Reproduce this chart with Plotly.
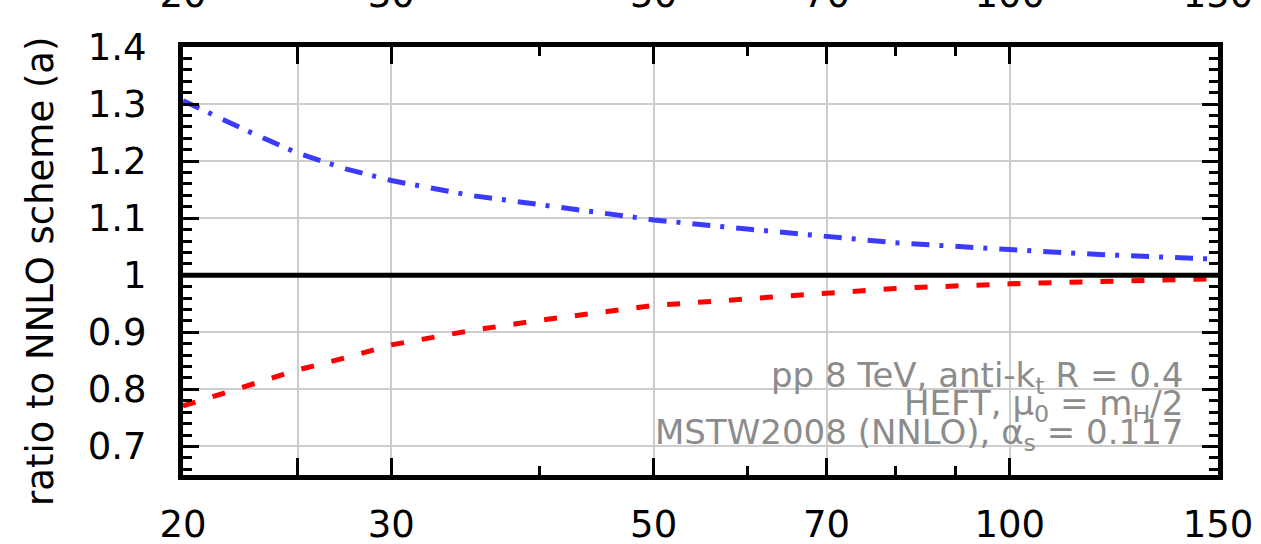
import math
import plotly.graph_objects as go

# transverse-momentum points and the two scheme ratios
pt = [20, 22.5, 25, 27.5, 30, 35, 40, 50, 60, 70, 80, 100, 120, 150]
ratio_blue = [1.306, 1.256, 1.214, 1.186, 1.166, 1.140, 1.124, 1.097, 1.081, 1.067, 1.057, 1.045, 1.036, 1.028]
ratio_red = [0.771, 0.805, 0.834, 0.856, 0.878, 0.903, 0.921, 0.947, 0.959, 0.969, 0.977, 0.985, 0.990, 0.994]

x_major = [20, 25, 30, 50, 70, 100, 150]
x_major_text = ["20", "", "30", "50", "70", "100", "150"]
x_minor = [40, 60, 80, 90]
y_major = [0.7, 0.8, 0.9, 1.0, 1.1, 1.2, 1.3, 1.4]
y_major_text = ["0.7", "0.8", "0.9", "1", "1.1", "1.2", "1.3", "1.4"]

info_lines = [
    "pp 8 TeV, anti-k<sub>t</sub> R = 0.4",
    "HEFT, μ<sub>0</sub> = m<sub>H</sub>/2",
    "MSTW2008 (NNLO), α<sub>s</sub> = 0.117",
]

FONT = "DejaVu Sans"
W, H = 1261, 544
ML, MR, MT, MB = 183, 43, 47, 69

fig = go.Figure()
fig.add_trace(go.Scatter(
    x=pt, y=ratio_blue, mode="lines",
    line=dict(color="#3b3bff", width=5, dash="18px,10px,4px,12px"),
    hoverinfo="skip", showlegend=False,
))
fig.add_trace(go.Scatter(
    x=pt, y=ratio_red, mode="lines",
    line=dict(color="#ff0000", width=5, dash="13px,18px"),
    hoverinfo="skip", showlegend=False,
))
# carrier for the upper x axis
fig.add_trace(go.Scatter(
    x=pt, y=ratio_blue, xaxis="x2", mode="lines",
    line=dict(width=0), opacity=0, hoverinfo="skip", showlegend=False,
))

xr = [math.log10(20), math.log10(150)]
tickfont = dict(family=FONT, size=37, color="black")

fig.update_layout(
    width=W, height=H,
    margin=dict(l=ML, r=MR, t=MT, b=MB, pad=0, autoexpand=False),
    paper_bgcolor="white", plot_bgcolor="white",
    xaxis=dict(
        type="log", range=xr, tickmode="array", automargin=False,
        tickvals=x_major, ticktext=x_major_text,
        ticks="inside", ticklen=17, tickwidth=3, tickcolor="black",
        showgrid=True, gridcolor="#cdcdcd", gridwidth=1.5,
        showline=True, linewidth=5, linecolor="black", mirror="ticks",
        tickfont=tickfont, ticklabelstandoff=13, zeroline=False,
        minor=dict(tickmode="array", tickvals=x_minor, ticks="inside",
                   ticklen=9, tickwidth=3, tickcolor="black", showgrid=False),
    ),
    xaxis2=dict(
        type="log", range=xr, overlaying="x", side="top", automargin=False,
        tickmode="array", tickvals=x_major, ticktext=x_major_text,
        ticks="", showgrid=False, showline=False, zeroline=False,
        tickfont=tickfont, ticklabelstandoff=32,
    ),
    yaxis=dict(
        range=[0.65, 1.4], tickmode="array", automargin=False,
        tickvals=y_major, ticktext=y_major_text,
        ticks="inside", ticklen=16, tickwidth=3, tickcolor="black",
        showgrid=True, gridcolor="#cdcdcd", gridwidth=1.5,
        showline=True, linewidth=5, linecolor="black", mirror="ticks",
        tickfont=tickfont, ticklabelstandoff=24, zeroline=False,
        minor=dict(tickmode="linear", tick0=0.7, dtick=0.02, ticks="inside",
                   ticklen=9, tickwidth=3, tickcolor="black", showgrid=False),
    ),
    shapes=[dict(type="line", xref="paper", x0=0, x1=1, yref="y", y0=1, y1=1,
                 line=dict(color="black", width=5))],
)

plot_w = W - ML - MR
plot_h = H - MT - MB

# y-axis title
fig.add_annotation(
    text="ratio to NNLO scheme (a)", textangle=-90,
    xref="paper", yref="paper", x=(40 - ML) / plot_w, y=(H - MB - 272) / plot_h,
    xanchor="center", yanchor="middle", showarrow=False,
    font=dict(family=FONT, size=37, color="black"),
)

# run-setup notes, right aligned inside the panel
for line, yc in zip(info_lines, [377, 405, 434]):
    fig.add_annotation(
        text=line, xref="paper", yref="paper",
        x=(1185 - ML) / plot_w, y=(H - MB - yc) / plot_h,
        xanchor="right", yanchor="middle", showarrow=False,
        font=dict(family=FONT, size=34, color="#8c8c8c"),
    )

fig.write_html("out.html")
